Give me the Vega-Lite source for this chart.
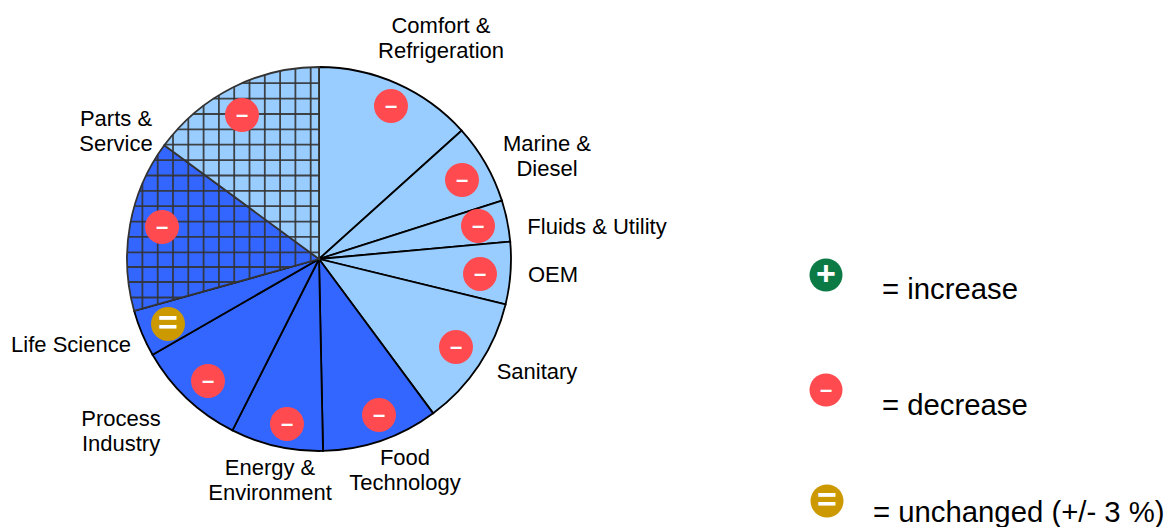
{
"$schema":"https://vega.github.io/schema/vega-lite/v6.json",
"width":1168,"height":527,"padding":0,"autosize":{"type":"none"},
"background":"#ffffff",
"config":{"view":{"stroke":null},"text":{"font":"Liberation Sans"}},
"datasets":{
"slices":[
{"segment":"Comfort & Refrigeration","share":48.0,"order":1,"cx":319,"cy":259,"fillGroup":"light","edge":"black"},
{"segment":"Marine & Diesel","share":24.3,"order":2,"cx":319,"cy":259,"fillGroup":"light","edge":"black"},
{"segment":"Fluids & Utility","share":12.5,"order":3,"cx":319,"cy":259,"fillGroup":"light","edge":"black"},
{"segment":"OEM","share":18.9,"order":4,"cx":319,"cy":259,"fillGroup":"light","edge":"black"},
{"segment":"Sanitary","share":39.8,"order":5,"cx":319,"cy":259,"fillGroup":"light","edge":"black"},
{"segment":"Food Technology","share":35.3,"order":6,"cx":319,"cy":259,"fillGroup":"dark","edge":"black"},
{"segment":"Energy & Environment","share":28.0,"order":7,"cx":319,"cy":259,"fillGroup":"dark","edge":"black"},
{"segment":"Process Industry","share":33.3,"order":8,"cx":319,"cy":259,"fillGroup":"dark","edge":"black"},
{"segment":"Life Science","share":14.2,"order":9,"cx":319,"cy":259,"fillGroup":"dark","edge":"black"},
{"segment":"Parts & Service (dark)","share":52.0,"order":10,"cx":319,"cy":259,"fillGroup":"dark","edge":"grey"},
{"segment":"Parts & Service (light)","share":53.7,"order":11,"cx":319,"cy":259,"fillGroup":"light","edge":"grey"}
],
"grid":[
{"a":310.7,"b":67.2,"c":310.7,"d":261.3},{"a":295.4,"b":68.5,"c":295.4,"d":265.6},{"a":280.1,"b":71,"c":280.1,"d":269.9},{"a":264.8,"b":74.8,"c":264.8,"d":274.2},{"a":249.5,"b":80,"c":249.5,"d":278.5},{"a":234.2,"b":86.7,"c":234.2,"d":282.8},{"a":218.9,"b":95.2,"c":218.9,"d":287.1},{"a":203.6,"b":105.6,"c":203.6,"d":291.4},{"a":188.3,"b":118.4,"c":188.3,"d":295.7},{"a":173,"b":134.3,"c":173,"d":300},{"a":157.7,"b":154.9,"c":157.7,"d":304.3},{"a":142.4,"b":183.7,"c":142.4,"d":308.6},
{"a":127.1,"b":252.3,"c":319,"d":252.3},{"a":128.3,"b":236.9,"c":319,"d":236.9},{"a":130.7,"b":221.6,"c":319,"d":221.6},{"a":134.4,"b":206.2,"c":319,"d":206.2},{"a":139.5,"b":190.8,"c":319,"d":190.8},{"a":146.1,"b":175.5,"c":319,"d":175.5},{"a":154.4,"b":160.1,"c":319,"d":160.1},{"a":164.7,"b":144.7,"c":319,"d":144.7},{"a":177.4,"b":129.3,"c":319,"d":129.3},{"a":193.1,"b":114,"c":319,"d":114},{"a":213.5,"b":98.6,"c":319,"d":98.6},{"a":241.8,"b":83.2,"c":319,"d":83.2},
{"a":127.2,"b":267,"c":290.5,"d":267},{"a":128.4,"b":282,"c":237.1,"d":282},{"a":130.9,"b":297.5,"c":182,"d":297.5}
],
"badges":[
{"segment":"Comfort & Refrigeration","status":"decrease","glyph":"–","r":"slice","a":391,"b":106},
{"segment":"Marine & Diesel","status":"decrease","glyph":"–","r":"slice","a":462,"b":180},
{"segment":"Fluids & Utility","status":"decrease","glyph":"–","r":"slice","a":478,"b":226},
{"segment":"OEM","status":"decrease","glyph":"–","r":"slice","a":480,"b":274},
{"segment":"Sanitary","status":"decrease","glyph":"–","r":"slice","a":456,"b":347},
{"segment":"Food Technology","status":"decrease","glyph":"–","r":"slice","a":379,"b":415},
{"segment":"Energy & Environment","status":"decrease","glyph":"–","r":"slice","a":287,"b":424},
{"segment":"Process Industry","status":"decrease","glyph":"–","r":"slice","a":208,"b":381},
{"segment":"Life Science","status":"unchanged","glyph":"=","r":"slice","a":168,"b":324},
{"segment":"Parts & Service (dark)","status":"decrease","glyph":"–","r":"slice","a":162,"b":227},
{"segment":"Parts & Service (light)","status":"decrease","glyph":"–","r":"slice","a":242,"b":115},
{"segment":"legend","status":"increase","glyph":"+","r":"legend","a":826,"b":275},
{"segment":"legend","status":"decrease","glyph":"–","r":"legend","a":826,"b":390},
{"segment":"legend","status":"unchanged","glyph":"=","r":"legend","a":827,"b":501}
],
"labels":[
{"text":"Comfort &\nRefrigeration","a":441,"b":26},
{"text":"Marine &\nDiesel","a":547,"b":144},
{"text":"Fluids & Utility","a":597,"b":227},
{"text":"OEM","a":553,"b":275},
{"text":"Sanitary","a":537,"b":372},
{"text":"Food\nTechnology","a":405,"b":458},
{"text":"Energy &\nEnvironment","a":270,"b":468},
{"text":"Process\nIndustry","a":121,"b":419},
{"text":"Life Science","a":71,"b":345},
{"text":"Parts &\nService","a":116,"b":119}
],
"legendText":[
{"text":"= increase","a":882,"b":290},
{"text":"= decrease","a":882,"b":406},
{"text":"= unchanged (+/- 3 %)","a":873,"b":513}
]
},
"layer":[
{"data":{"name":"slices"},
 "mark":{"type":"arc","radius":192,"strokeWidth":1.8},
 "encoding":{
  "x":{"field":"cx","type":"quantitative","scale":{"domain":[0,1168]},"axis":null},
  "y":{"field":"cy","type":"quantitative","scale":{"domain":[527,0]},"axis":null},
  "theta":{"field":"share","type":"quantitative","stack":true},
  "order":{"field":"order","type":"quantitative"},
  "fill":{"field":"fillGroup","type":"nominal","scale":{"domain":["light","dark"],"range":["#99CCFF","#3366FF"]},"legend":null},
  "stroke":{"field":"edge","type":"nominal","scale":{"domain":["black","grey"],"range":["#000000","#333333"]},"legend":null}
 }},
{"data":{"name":"grid"},
 "mark":{"type":"rule","color":"#333333","strokeWidth":1.8,"opacity":0.9},
 "encoding":{
  "x":{"field":"a","type":"quantitative","scale":{"domain":[0,1168]},"axis":null},
  "y":{"field":"b","type":"quantitative","scale":{"domain":[527,0]},"axis":null},
  "x2":{"field":"c"},"y2":{"field":"d"}
 }},
{"data":{"name":"badges"},
 "mark":{"type":"point","filled":true,"opacity":1,"shape":"circle"},
 "encoding":{
  "x":{"field":"a","type":"quantitative","scale":{"domain":[0,1168]},"axis":null},
  "y":{"field":"b","type":"quantitative","scale":{"domain":[527,0]},"axis":null},
  "color":{"field":"status","type":"nominal","scale":{"domain":["increase","decrease","unchanged"],"range":["#0B7A45","#FF4B50","#CC9900"]},"legend":null},
  "size":{"field":"r","type":"nominal","scale":{"domain":["slice","legend"],"range":[1156,1089]},"legend":null}
 }},
{"data":{"name":"badges"},
 "transform":[{"filter":"datum.status === 'decrease'"}],
 "mark":{"type":"text","color":"#ffffff","fontWeight":"bold","font":"Liberation Sans","fontSize":22,"align":"center","baseline":"middle"},
 "encoding":{
  "x":{"field":"a","type":"quantitative","scale":{"domain":[0,1168]},"axis":null},
  "y":{"field":"b","type":"quantitative","scale":{"domain":[527,0]},"axis":null},
  "text":{"field":"glyph","type":"nominal"}
 }},
{"data":{"name":"badges"},
 "transform":[{"filter":"datum.status !== 'decrease'"}],
 "mark":{"type":"text","color":"#ffffff","fontWeight":"bold","font":"Liberation Sans","fontSize":34,"align":"center","baseline":"middle"},
 "encoding":{
  "x":{"field":"a","type":"quantitative","scale":{"domain":[0,1168]},"axis":null},
  "y":{"field":"b","type":"quantitative","scale":{"domain":[527,0]},"axis":null},
  "text":{"field":"glyph","type":"nominal"}
 }},
{"data":{"name":"labels"},
 "mark":{"type":"text","color":"#000000","font":"Liberation Sans","fontSize":22,"lineHeight":25,"lineBreak":"\n","align":"center","baseline":"middle"},
 "encoding":{
  "x":{"field":"a","type":"quantitative","scale":{"domain":[0,1168]},"axis":null},
  "y":{"field":"b","type":"quantitative","scale":{"domain":[527,0]},"axis":null},
  "text":{"field":"text","type":"nominal"}
 }},
{"data":{"name":"legendText"},
 "mark":{"type":"text","color":"#000000","font":"Liberation Sans","fontSize":29.3,"align":"left","baseline":"middle"},
 "encoding":{
  "x":{"field":"a","type":"quantitative","scale":{"domain":[0,1168]},"axis":null},
  "y":{"field":"b","type":"quantitative","scale":{"domain":[527,0]},"axis":null},
  "text":{"field":"text","type":"nominal"}
 }}
]
}
